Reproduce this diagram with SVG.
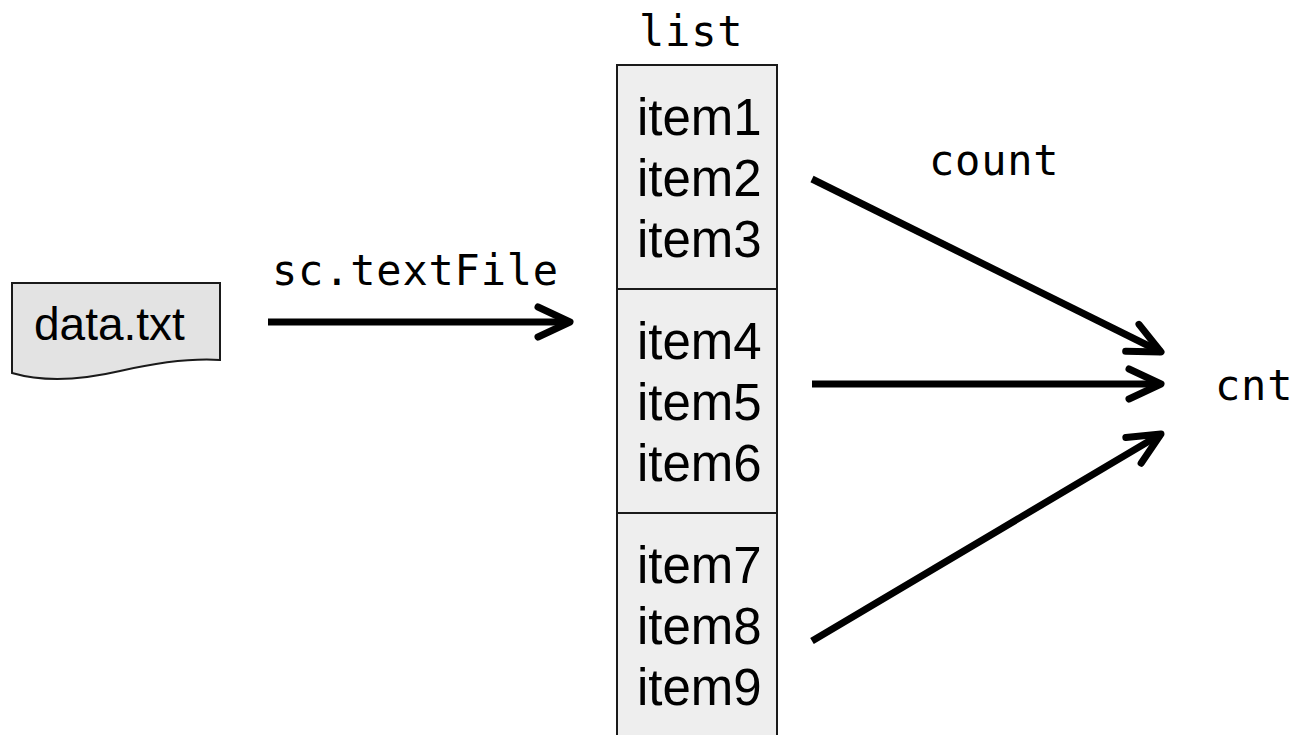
<svg xmlns="http://www.w3.org/2000/svg" width="1297" height="735" viewBox="0 0 1297 735">
  <style>
    .sans { font-family: "Liberation Sans", Arial, sans-serif; fill: #000; }
    .mono { font-family: "DejaVu Sans Mono", monospace; font-size: 42px; letter-spacing: 0.8px; fill: #000; }
    .item { font-size: 51px; }
    .cell { fill: #eeeeee; stroke: #1a1a1a; stroke-width: 2; }
    .doc { fill: #e3e3e3; stroke: #1a1a1a; stroke-width: 2; }
    .edge { fill: none; stroke: #000; stroke-width: 7; marker-end: url(#chevron); }
  </style>
  <defs>
    <marker id="chevron" markerUnits="userSpaceOnUse" viewBox="-40 -22 48 44" markerWidth="48" markerHeight="44" refX="0" refY="0" orient="auto" overflow="visible">
      <path d="M-32,-15 L0,0 L-32,15" fill="none" stroke="#000" stroke-width="7" stroke-linecap="round" stroke-linejoin="round"/>
    </marker>
  </defs>

  <rect width="1297" height="735" fill="#ffffff"/>

  <!-- source document -->
  <g id="data-txt">
    <path class="doc" d="M12,283 H220 V360 C190,358 160,362 120,371 C90,378 50,384 12,373 Z"/>
    <text class="sans" x="34" y="340" font-size="46">data.txt</text>
  </g>

  <!-- list of three partitions -->
  <g id="list">
    <text class="mono" x="639" y="46">list</text>
    <g id="partition-1">
      <rect class="cell" x="617" y="65" width="160" height="224"/>
      <text class="sans item" x="637" y="135">item1</text>
      <text class="sans item" x="637" y="196">item2</text>
      <text class="sans item" x="637" y="257">item3</text>
    </g>
    <g id="partition-2">
      <rect class="cell" x="617" y="289" width="160" height="224"/>
      <text class="sans item" x="637" y="359">item4</text>
      <text class="sans item" x="637" y="420">item5</text>
      <text class="sans item" x="637" y="481">item6</text>
    </g>
    <g id="partition-3">
      <rect class="cell" x="617" y="513" width="160" height="224"/>
      <text class="sans item" x="637" y="583">item7</text>
      <text class="sans item" x="637" y="644">item8</text>
      <text class="sans item" x="637" y="705">item9</text>
    </g>
  </g>

  <!-- result -->
  <g id="cnt">
    <text class="mono" x="1215" y="400">cnt</text>
  </g>

  <!-- connectors -->
  <g id="connectors">
    <path class="edge" d="M268,322 L570,322"/>
    <text class="mono" x="272" y="285">sc.textFile</text>
    <path class="edge" d="M812,179 L1161,352"/>
    <text class="mono" x="929" y="175">count</text>
    <path class="edge" d="M812,384 L1161,384"/>
    <path class="edge" d="M812,641 L1161,434"/>
  </g>
</svg>
